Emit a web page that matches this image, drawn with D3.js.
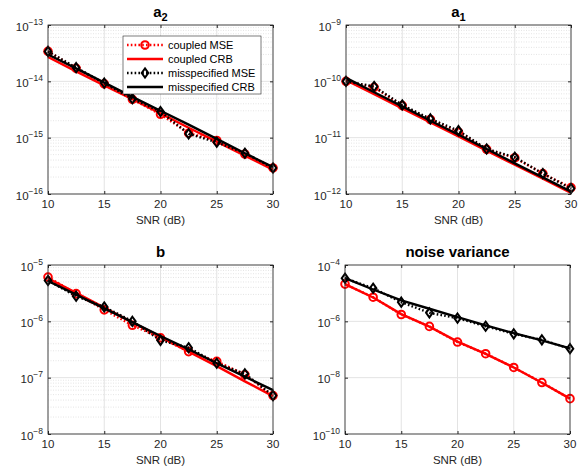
<!DOCTYPE html>
<html>
<head>
<meta charset="utf-8">
<script src="https://cdn.jsdelivr.net/npm/d3@7"></script>
<style>
  body { margin: 0; background: #fff; }
  text { font-family: "Liberation Sans", Arial, Helvetica, sans-serif; }
</style>
</head>
<body>
<script>
var snr = [10, 12.5, 15, 17.5, 20, 22.5, 25, 27.5, 30];
var xTicks = [10, 15, 20, 25, 30];

// a2
var a2CoupledMse = [3.4e-14, 1.7e-14, 9.0e-15, 4.8e-15, 2.6e-15, 1.2e-15, 8.9e-16, 5.1e-16, 2.9e-16];
var a2CoupledCrb = [2.7e-14, 1.5e-14, 8.5e-15, 4.8e-15, 2.7e-15, 1.5e-15, 8.5e-16, 4.8e-16, 2.7e-16];
var a2MisMse = [3.4e-14, 1.75e-14, 9.3e-15, 4.9e-15, 2.9e-15, 1.17e-15, 8.3e-16, 5.3e-16, 2.9e-16];
var a2MisCrb = [3.0e-14, 1.7e-14, 9.5e-15, 5.3e-15, 3.0e-15, 1.7e-15, 9.5e-16, 5.3e-16, 3.0e-16];
// a1
var a1CoupledMse = [1.0e-10, 7.8e-11, 3.7e-11, 2.1e-11, 1.25e-11, 6.2e-12, 4.4e-12, 2.3e-12, 1.3e-12];
var a1CoupledCrb = [1.05e-10, 5.9e-11, 3.3e-11, 1.87e-11, 1.05e-11, 5.9e-12, 3.3e-12, 1.87e-12, 1.05e-12];
var a1MisMse = [1.0e-10, 8.1e-11, 3.8e-11, 2.15e-11, 1.33e-11, 6.3e-12, 4.5e-12, 2.3e-12, 1.25e-12];
var a1MisCrb = [1.15e-10, 6.4e-11, 3.6e-11, 2.0e-11, 1.13e-11, 6.3e-12, 3.5e-12, 1.97e-12, 1.1e-12];
// b
var bCoupledMse = [6.1e-6, 3.1e-6, 1.6e-6, 8.5e-7, 5.1e-7, 2.9e-7, 1.95e-7, 1.13e-7, 4.8e-8];
var bCoupledCrb = [5.8e-6, 3.2e-6, 1.75e-6, 9.6e-7, 5.3e-7, 2.9e-7, 1.6e-7, 8.6e-8, 4.7e-8];
var bMisMse = [5.3e-6, 2.8e-6, 1.8e-6, 1.0e-6, 4.6e-7, 3.4e-7, 1.8e-7, 1.17e-7, 4.8e-8];
var bMisCrb = [5.2e-6, 2.97e-6, 1.7e-6, 9.7e-7, 5.5e-7, 3.2e-7, 1.8e-7, 1.04e-7, 6.0e-8];
// noise variance
var nvCoupledMse = [2.1e-5, 7.2e-6, 1.75e-6, 6.6e-7, 1.84e-7, 7.1e-8, 2.3e-8, 6.7e-9, 1.8e-9];
var nvCoupledCrb = [2.1e-5, 7.0e-6, 1.8e-6, 6.5e-7, 1.9e-7, 7.0e-8, 2.3e-8, 6.6e-9, 1.8e-9];
var nvMisMse = [3.4e-5, 1.5e-5, 4.8e-6, 2.0e-6, 1.3e-6, 6.7e-7, 3.6e-7, 2.2e-7, 1.07e-7];
var nvMisCrb = [3.4e-5, 1.35e-5, 5.5e-6, 2.8e-6, 1.4e-6, 7.2e-7, 3.8e-7, 2.1e-7, 1.1e-7];

var legendLabels = ["coupled MSE", "coupled CRB", "misspecified MSE", "misspecified CRB"];

var panels = [
    { title: "a", sub: "2", left: 48, top: 25, yDom: [1e-16, 1e-13], yTicks: [-16, -15, -14, -13], minor: true,
      series: [a2CoupledMse, a2CoupledCrb, a2MisMse, a2MisCrb], legend: true },
    { title: "a", sub: "1", left: 346, top: 25, yDom: [1e-12, 1e-9], yTicks: [-12, -11, -10, -9], minor: true,
      series: [a1CoupledMse, a1CoupledCrb, a1MisMse, a1MisCrb] },
    { title: "b", left: 48, top: 265, yDom: [1e-8, 1e-5], yTicks: [-8, -7, -6, -5], minor: true,
      series: [bCoupledMse, bCoupledCrb, bMisMse, bMisCrb] },
    { title: "noise variance", left: 345, top: 265, yDom: [1e-10, 1e-4], yTicks: [-10, -8, -6, -4], minor: false,
      series: [nvCoupledMse, nvCoupledCrb, nvMisMse, nvMisCrb] }
];

var pw = 225, ph = 169;
var styles = [
    { color: "#ff0000", dash: "1.6,2.2", marker: "o" },
    { color: "#ff0000", dash: null, marker: null },
    { color: "#000000", dash: "1.6,2.2", marker: "d" },
    { color: "#000000", dash: null, marker: null }
];
var axisColor = "#262626";

var svg = d3.select("body").append("svg")
    .attr("width", 586)
    .attr("height", 475);

function drawMarker(g, type, cx, cy, color) {
    if (type === "o") {
        g.append("circle").attr("cx", cx).attr("cy", cy).attr("r", 3.8)
            .attr("fill", "none").attr("stroke", color).attr("stroke-width", 2);
    } else if (type === "d") {
        g.append("path")
            .attr("d", "M" + cx + "," + (cy - 4.6) + "L" + (cx + 3.3) + "," + cy + "L" + cx + "," + (cy + 4.6) + "L" + (cx - 3.3) + "," + cy + "Z")
            .attr("fill", "none").attr("stroke", color).attr("stroke-width", 2);
    }
}

panels.forEach(function (p) {
    var g = svg.append("g").attr("transform", "translate(" + p.left + "," + p.top + ")");
    var x = d3.scaleLinear().domain([10, 30]).range([0, pw]);
    var y = d3.scaleLog().domain(p.yDom).range([ph, 0]);

    g.append("rect").attr("width", pw).attr("height", ph).attr("fill", "#fff");

    // minor grid
    if (p.minor) {
        var minorVals = [];
        for (var e = p.yTicks[0]; e < p.yTicks[p.yTicks.length - 1]; e++) {
            for (var m = 2; m <= 9; m++) minorVals.push(m * Math.pow(10, e));
        }
        g.selectAll(".minor").data(minorVals).enter().append("line")
            .attr("x1", 0).attr("x2", pw)
            .attr("y1", function (d) { return y(d); }).attr("y2", function (d) { return y(d); })
            .attr("stroke", "#d4d4d4").attr("stroke-width", 0.6).attr("stroke-dasharray", "1,1.5");
    }
    // major grid
    g.selectAll(".hgrid").data(p.yTicks).enter().append("line")
        .attr("x1", 0).attr("x2", pw)
        .attr("y1", function (d) { return y(Math.pow(10, d)); }).attr("y2", function (d) { return y(Math.pow(10, d)); })
        .attr("stroke", "#e3e3e3").attr("stroke-width", 1);
    g.selectAll(".vgrid").data(xTicks).enter().append("line")
        .attr("y1", 0).attr("y2", ph)
        .attr("x1", function (d) { return x(d); }).attr("x2", function (d) { return x(d); })
        .attr("stroke", "#e3e3e3").attr("stroke-width", 1);

    // series
    var line = d3.line()
        .x(function (d, i) { return x(snr[i]); })
        .y(function (d) { return y(d); });
    p.series.forEach(function (s, k) {
        var st = styles[k];
        g.append("path").datum(s)
            .attr("d", line)
            .attr("fill", "none")
            .attr("stroke", st.color)
            .attr("stroke-width", 2.4)
            .attr("stroke-dasharray", st.dash);
        if (st.marker) {
            s.forEach(function (v, i) { drawMarker(g, st.marker, x(snr[i]), y(v), st.color); });
        }
    });

    // axes box and ticks
    g.append("rect").attr("width", pw).attr("height", ph)
        .attr("fill", "none").attr("stroke", axisColor).attr("stroke-width", 0.8);
    var xAxis = d3.axisBottom(x).tickValues(xTicks).tickSize(-3).tickFormat("");
    g.append("g").attr("transform", "translate(0," + ph + ")").call(xAxis)
        .call(function (a) { a.select(".domain").remove(); a.selectAll("line").attr("stroke", axisColor); });
    g.append("g").call(d3.axisTop(x).tickValues(xTicks).tickSize(-3).tickFormat(""))
        .call(function (a) { a.select(".domain").remove(); a.selectAll("line").attr("stroke", axisColor); });
    var tv = p.yTicks.map(function (d) { return Math.pow(10, d); });
    g.append("g").call(d3.axisLeft(y).tickValues(tv).tickSize(-3).tickFormat(""))
        .call(function (a) { a.select(".domain").remove(); a.selectAll("line").attr("stroke", axisColor); });
    g.append("g").attr("transform", "translate(" + pw + ",0)")
        .call(d3.axisRight(y).tickValues(tv).tickSize(-3).tickFormat(""))
        .call(function (a) { a.select(".domain").remove(); a.selectAll("line").attr("stroke", axisColor); });

    // x tick labels
    g.selectAll(".xl").data(xTicks).enter().append("text")
        .attr("x", function (d) { return x(d); })
        .attr("y", ph + 14)
        .attr("text-anchor", "middle")
        .attr("font-size", "11.5px")
        .attr("fill", axisColor)
        .text(function (d) { return d; });
    g.append("text")
        .attr("x", pw / 2).attr("y", ph + 29.5)
        .attr("text-anchor", "middle")
        .attr("font-size", "11.5px")
        .attr("fill", axisColor)
        .text("SNR (dB)");

    // y tick labels 10^e
    p.yTicks.forEach(function (e) {
        var t = g.append("text")
            .attr("x", -5).attr("y", y(Math.pow(10, e)) + 5.5)
            .attr("text-anchor", "end")
            .attr("font-size", "11.5px")
            .attr("fill", axisColor);
        t.append("tspan").text("10");
        t.append("tspan").attr("dy", -6).attr("font-size", "8.5px").text("\u2212" + Math.abs(e));
    });

    // title
    var title = g.append("text")
        .attr("x", pw / 2).attr("y", -8)
        .attr("text-anchor", "middle")
        .attr("font-size", "15px")
        .attr("font-weight", "bold")
        .attr("fill", "#000");
    title.append("tspan").text(p.title);
    if (p.sub) title.append("tspan").attr("dy", 4).attr("font-size", "11px").text(p.sub);

    // legend
    if (p.legend) {
        var lg = g.append("g").attr("transform", "translate(75,11)");
        lg.append("rect").attr("width", 138).attr("height", 58)
            .attr("fill", "#fff").attr("stroke", axisColor).attr("stroke-width", 0.6);
        legendLabels.forEach(function (lab, k) {
            var st = styles[k];
            var ly = 9 + k * 14;
            lg.append("line").attr("x1", 4).attr("x2", 40).attr("y1", ly).attr("y2", ly)
                .attr("stroke", st.color).attr("stroke-width", 2.4)
                .attr("stroke-dasharray", st.dash);
            if (st.marker) drawMarker(lg, st.marker, 22, ly, st.color);
            lg.append("text").attr("x", 45).attr("y", ly + 4)
                .attr("font-size", "11px").attr("fill", "#000").text(lab);
        });
    }
});
</script>
</body>
</html>
